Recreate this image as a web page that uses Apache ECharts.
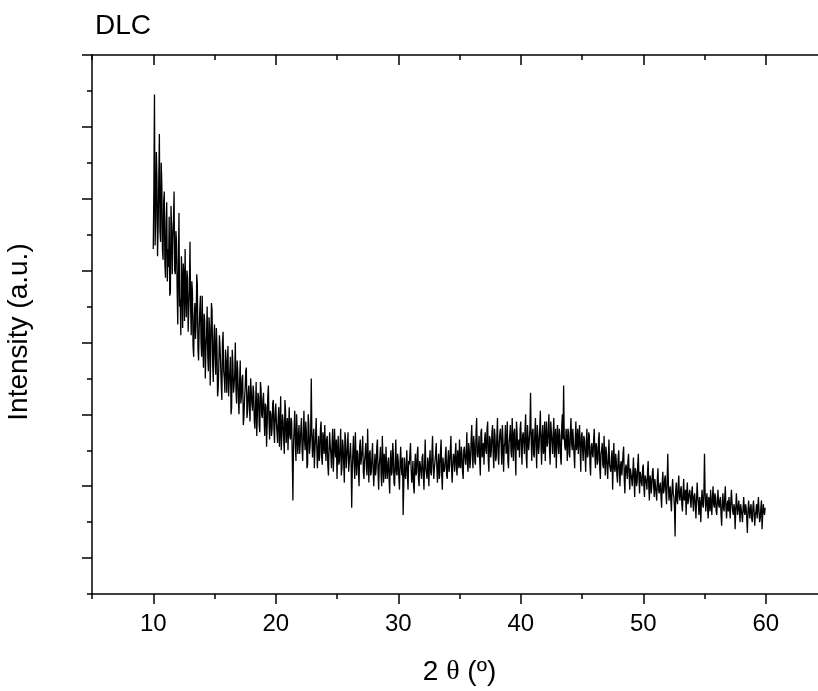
<!DOCTYPE html>
<html>
<head>
<meta charset="utf-8">
<script src="https://cdn.jsdelivr.net/npm/echarts@6/dist/echarts.min.js"></script>
<style>html,body{margin:0;padding:0;background:#fff}#c{width:818px;height:691px}</style>
</head>
<body>
<div id="c"></div>
<script>
// readings at 2θ = 10.0, 10.1, ... 60.0
var xStart = 10, xStep = 0.1;
var intensity = [
 9.6,13.9,10.4,11.6,10.2,12.8,9.8,11.4,9.3,11.2,
 8.8,10.9,9.6,10.5,8.4,10.2,9.9,11.2,8.9,9.8,
 7.5,10.6,8.2,9.4,7.4,8.9,9.6,7.7,8.8,7.9,
 9.8,7.2,8.4,6.6,8.1,7.5,8.6,6.5,7.9,7.0,
 8.3,6.3,7.6,6.8,8.0,6.2,7.4,6.9,7.9,5.9,
 7.5,6.1,6.9,5.7,7.2,6.4,5.4,7.3,6.0,6.8,
 5.6,6.9,5.9,6.6,5.2,6.4,5.8,7.0,5.3,6.2,
 5.0,6.5,5.5,6.1,4.9,5.7,6.3,5.1,5.8,4.8,
 6.0,5.1,5.6,4.6,5.9,5.0,5.5,4.5,5.7,4.9,
 5.6,4.4,5.2,4.7,5.8,4.3,5.0,4.6,5.4,4.2,
 5.3,4.5,4.9,4.1,5.5,4.4,4.8,3.9,5.1,4.6,
 4.0,5.2,4.3,4.8,2.6,4.6,4.1,5.0,3.9,4.7,
 4.2,4.9,3.7,5.1,4.0,4.5,3.6,4.7,4.1,6.0,
 3.8,4.6,4.0,4.9,3.5,4.4,3.9,4.8,3.6,4.3,
 4.7,3.7,4.4,3.3,4.5,3.9,4.2,3.4,4.6,3.8,
 3.2,4.4,3.7,4.6,3.5,4.1,3.1,4.3,3.8,4.5,
 3.4,4.2,2.4,4.0,3.6,4.5,3.3,3.9,3.0,4.3,
 3.6,4.4,3.2,3.9,3.5,4.6,3.1,4.0,3.4,4.2,
 3.0,3.9,3.5,4.3,2.9,3.8,3.3,4.4,3.1,3.7,
 4.1,3.2,3.8,2.8,4.0,3.4,3.9,3.0,4.3,3.3,
 3.7,2.9,4.1,3.3,2.2,3.8,3.2,4.0,2.9,3.6,
 4.2,3.1,3.7,2.8,3.9,3.4,4.1,3.0,3.6,3.2,
 3.9,2.9,4.3,3.5,3.8,3.0,4.0,3.3,4.4,3.2,
 3.7,4.2,3.1,3.9,3.4,4.3,2.9,3.8,3.5,4.1,
 3.2,4.0,3.6,4.4,3.1,3.9,3.4,4.2,3.3,3.8,
 4.3,3.5,3.9,3.2,4.1,3.6,4.5,3.4,4.0,3.7,
 4.7,3.5,4.2,3.6,4.9,3.8,4.4,3.3,4.6,4.0,
 3.6,4.5,3.9,4.8,3.4,4.3,4.0,4.7,3.5,4.4,
 3.8,4.9,3.6,4.5,4.1,4.7,3.4,4.2,3.9,4.8,
 3.5,4.4,4.0,4.9,3.7,4.6,3.3,4.5,4.1,3.8,
 4.8,3.6,4.5,3.9,5.0,3.5,4.3,4.0,5.6,3.7,
 4.6,3.8,4.9,3.5,4.4,4.1,5.1,3.6,4.7,4.0,
 3.7,4.8,4.2,5.0,3.6,4.5,3.9,4.9,4.3,3.5,
 4.7,3.9,4.4,3.6,5.0,5.8,4.1,4.6,3.7,4.5,
 3.8,4.9,4.0,4.6,3.5,4.8,4.2,3.9,4.7,3.4,
 4.5,3.7,4.3,3.4,4.6,3.9,4.4,3.3,4.2,3.8,
 4.6,3.5,4.1,3.7,4.5,3.2,4.0,3.6,4.4,3.3,
 3.9,3.2,4.3,3.5,3.8,2.9,4.2,3.4,3.7,3.1,
 4.0,3.0,3.7,3.3,4.1,2.8,3.6,3.2,3.9,2.9,
 3.5,3.0,3.8,2.7,3.4,3.1,3.9,2.8,3.3,3.0,
 3.6,2.7,3.3,2.9,3.7,2.6,3.2,3.0,3.5,2.7,
 3.2,2.6,3.5,2.8,3.1,2.4,3.4,2.9,3.3,2.5,
 3.9,2.6,3.0,2.3,3.2,2.7,1.6,3.1,2.5,3.3,
 2.6,3.0,2.3,3.2,2.7,2.2,3.1,2.5,2.9,2.4,
 3.0,2.3,2.8,2.1,3.1,2.5,2.7,2.0,2.9,2.4,
 3.9,2.3,2.8,2.1,2.6,2.9,2.2,3.0,2.4,2.7,
 2.2,2.9,2.4,2.7,1.9,2.8,2.3,3.0,2.1,2.6,
 2.7,2.1,2.9,2.3,2.5,1.8,2.8,2.2,2.6,2.0,
 2.5,2.0,2.7,2.2,2.4,1.7,2.6,2.1,2.5,2.0,
 2.6,1.9,2.3,2.1,2.7,2.0,2.4,1.8,2.5,2.2,
 2.4
];
// readings at 2θ = 10.05, 10.15, ... 59.95
var intensityMid = [
 11.3,9.7,12.3,9.4,11.5,10.1,12.0,9.6,10.9,9.2,
 10.3,8.7,9.1,8.3,10.8,8.9,10.4,9.0,10.1,8.5,
 9.1,8.0,7.2,8.7,9.2,7.6,8.3,9.0,7.3,8.5,
 8.0,8.7,6.9,7.7,7.1,8.9,6.8,7.4,8.3,6.6,
 7.0,7.8,6.0,7.2,6.6,7.7,5.8,8.1,6.4,7.1,
 6.6,7.4,5.5,6.3,6.9,5.8,7.0,6.2,5.6,6.5,
 6.4,5.5,6.2,5.0,6.8,5.6,6.1,5.7,6.5,5.4,
 5.9,5.3,6.0,4.7,5.4,6.2,4.9,5.6,5.2,6.0,
 5.3,5.8,4.8,5.2,4.4,5.6,4.7,5.9,5.0,5.4,
 4.9,5.3,4.1,5.5,4.8,5.1,4.4,5.3,4.6,5.0,
 4.8,4.2,5.2,4.6,4.0,5.0,4.3,5.4,4.2,4.9,
 4.6,4.4,4.9,3.8,4.2,5.1,3.7,4.5,4.4,3.9,
 4.6,4.0,4.4,4.3,4.8,3.5,5.0,3.9,4.5,4.4,
 4.3,3.5,4.4,4.1,4.0,3.7,4.6,3.8,4.5,3.9,
 4.1,4.3,3.6,4.0,4.1,3.5,4.6,3.9,4.0,4.3,
 3.9,3.6,4.1,3.3,4.3,3.6,4.5,3.5,4.1,3.4,
 3.9,3.7,3.5,4.4,3.2,3.8,4.0,3.4,4.1,3.6,
 4.0,3.4,3.7,4.2,3.3,3.8,3.9,3.3,3.8,3.5,
 3.5,3.3,4.1,3.4,3.6,4.1,3.0,3.7,3.9,3.2,
 3.5,3.6,3.2,3.7,3.3,4.2,3.1,3.6,3.4,3.9,
 3.2,3.7,3.5,3.8,3.0,3.4,3.6,3.3,3.7,3.9,
 3.5,3.3,3.0,3.6,3.3,3.9,3.2,3.7,3.4,3.8,
 3.3,3.6,3.5,3.2,3.6,3.7,3.4,3.9,3.6,3.5,
 3.9,3.5,3.6,3.2,4.0,3.3,3.8,3.4,3.9,3.3,
 3.7,3.4,4.0,3.5,3.6,3.8,3.9,3.5,4.0,3.5,
 3.6,4.1,3.4,4.0,3.8,3.9,3.6,4.2,3.5,4.3,
 3.9,4.4,3.7,4.5,3.9,4.1,3.7,4.5,3.8,4.2,
 4.3,4.0,4.6,3.7,4.4,3.8,4.5,3.9,4.6,3.7,
 4.4,3.9,4.2,4.6,3.6,4.3,4.1,4.7,4.0,3.7,
 4.2,4.7,3.8,4.3,4.5,3.9,4.8,4.0,4.3,4.6,
 4.1,4.4,4.2,4.6,3.8,4.7,4.0,4.6,4.3,4.5,
 3.9,4.5,4.1,4.7,3.9,4.6,4.2,4.4,3.9,4.8,
 4.4,4.1,4.6,4.0,4.8,4.2,4.5,3.8,4.6,4.2,
 4.2,4.6,3.8,4.7,4.3,4.4,4.0,4.3,4.6,3.9,
 4.5,4.2,4.6,3.9,4.3,4.0,4.6,4.3,4.0,4.4,
 4.0,4.4,3.9,4.2,3.8,4.5,3.6,4.1,3.9,4.3,
 3.9,4.2,3.6,4.3,3.5,3.9,4.2,3.5,3.8,4.1,
 3.5,3.8,3.6,3.4,4.0,3.6,3.5,3.9,3.3,3.8,
 3.4,3.6,3.3,3.9,3.2,3.5,3.4,3.7,3.3,3.5,
 3.2,3.4,3.2,3.5,3.0,3.6,3.2,3.4,3.1,3.5,
 3.0,3.3,3.1,3.4,3.0,3.3,2.8,3.4,3.0,3.2,
 2.8,3.2,2.9,3.0,2.7,3.1,2.8,3.2,2.8,3.1,
 3.1,2.8,2.6,2.9,2.8,2.4,2.9,2.6,3.0,2.7,
 2.9,2.5,2.8,2.6,2.9,2.8,2.5,2.8,2.6,2.8,
 2.6,2.7,2.5,2.6,2.7,2.2,2.5,2.6,2.5,2.8,
 2.8,2.6,2.4,2.7,2.3,2.5,2.7,2.5,2.8,2.3,
 2.6,2.5,2.6,2.2,2.5,2.4,2.7,2.4,2.5,2.3,
 2.4,2.6,2.5,2.2,2.4,2.3,2.5,2.4,2.3,2.5,
 2.2,2.4,2.3,2.5,2.1,2.3,2.3,2.4,2.1,2.4,
 2.3,2.2,2.5,2.4,2.3,2.1,2.6,2.2,2.3,2.4
];
var xMajorTicks = [10, 20, 30, 40, 50, 60];
var xMinorTicks = [5, 15, 25, 35, 45, 55, 65];
var yMajorTicks = [1, 3, 5, 7, 9, 11, 13, 15];
var yMinorTicks = [0, 2, 4, 6, 8, 10, 12, 14];
var xRange = [5, 65];
var yRange = [0, 15];

var points = [];
intensity.forEach(function (v, i) {
  var x = xStart + i * xStep;
  points.push([+x.toFixed(2), v]);
  if (i < intensityMid.length) points.push([+(x + xStep / 2).toFixed(3), intensityMid[i]]);
});

var font = 'Liberation Sans, Arial, sans-serif';
var lineStyle = { color: '#000', width: 1.5 };

function xAx(pos, ticks, len, inside, showLine, labels) {
  return {
    type: 'value', position: pos, min: xRange[0], max: xRange[1], interval: 5,
    axisLine: { show: showLine, onZero: false, lineStyle: lineStyle },
    axisTick: { show: true, customValues: ticks, length: len, inside: inside, lineStyle: lineStyle },
    axisLabel: labels ? { show: true, customValues: ticks, color: '#000', fontSize: 24, fontFamily: font, margin: 18 } : { show: false },
    splitLine: { show: false }
  };
}
function yAx(ticks, len, showLine) {
  return {
    type: 'value', position: 'left', min: yRange[0], max: yRange[1], interval: 1,
    axisLine: { show: showLine, onZero: false, lineStyle: lineStyle },
    axisTick: { show: true, customValues: ticks, length: len, lineStyle: lineStyle },
    axisLabel: { show: false },
    splitLine: { show: false }
  };
}

var xMain = xAx('bottom', xMajorTicks, 10, false, true, true);
xMain.name = '2 {t|θ} (º)';
xMain.nameLocation = 'middle';
xMain.nameGap = 64;
xMain.nameTextStyle = { color: '#000', fontSize: 28, fontFamily: font,
  rich: { t: { fontSize: 28, fontFamily: 'Liberation Serif, Times New Roman, serif', color: '#000' } } };

var yMain = yAx(yMajorTicks, 10, true);
yMain.name = 'Intensity (a.u.)';
yMain.nameLocation = 'middle';
yMain.nameGap = 59;
yMain.nameTextStyle = { color: '#000', fontSize: 28, fontFamily: font, padding: [0, 15, 0, 0] };

var chart = echarts.init(document.getElementById('c'), null, { renderer: 'canvas' });
chart.setOption({
  animation: false,
  backgroundColor: '#fff',
  title: { text: 'DLC', left: 95, top: 12, padding: 0,
    textStyle: { color: '#000', fontSize: 28, fontWeight: 'normal', fontFamily: font } },
  grid: { left: 92, right: -9, top: 55, bottom: 97, containLabel: false, outerBoundsMode: 'none' },
  xAxis: [
    xMain,
    xAx('bottom', xMinorTicks, 5, false, false, false),
    xAx('top', xMajorTicks, 10, true, true, false),
    xAx('top', xMinorTicks, 5, true, false, false)
  ],
  yAxis: [yMain, yAx(yMinorTicks, 5, false)],
  series: [{
    type: 'line', data: points, xAxisIndex: 0, yAxisIndex: 0,
    showSymbol: false, symbol: 'none', sampling: null,
    lineStyle: { color: '#000', width: 1.3 }
  }]
});
</script>
</body>
</html>
